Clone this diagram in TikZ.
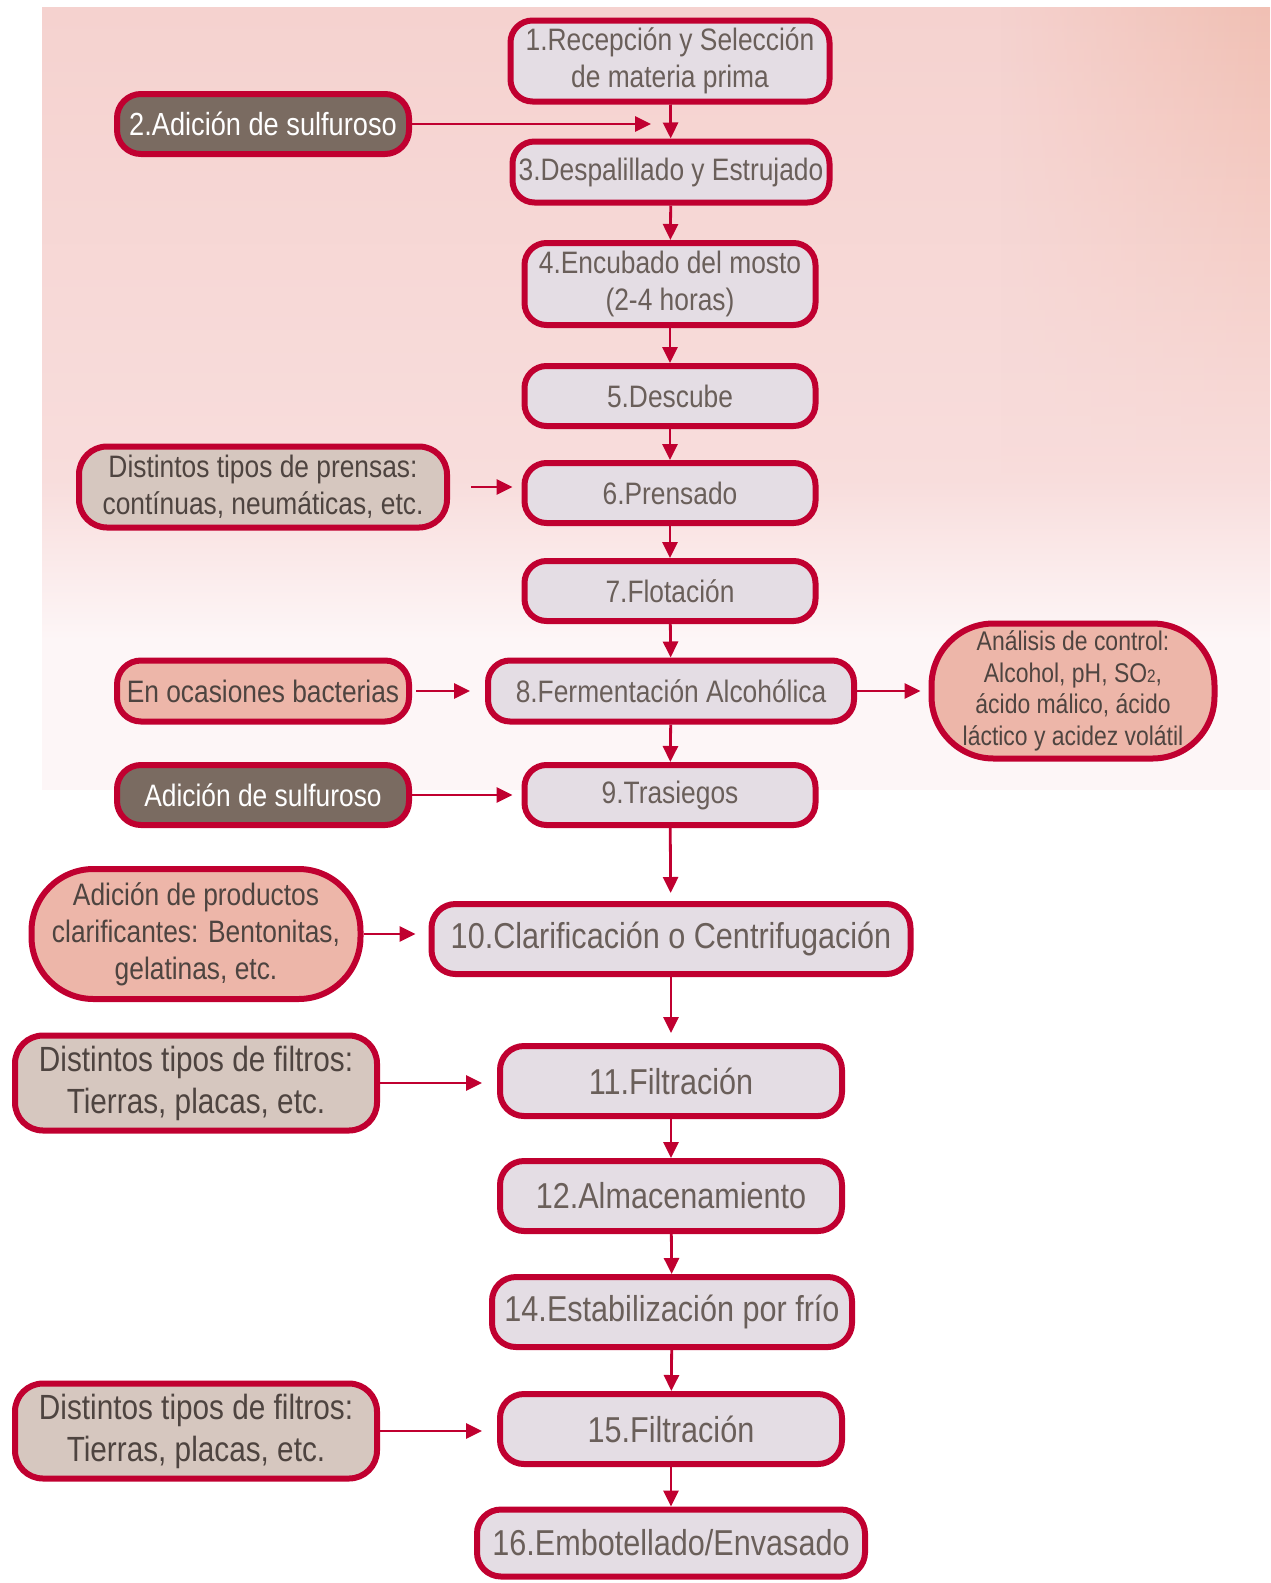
\documentclass[tikz,border=0pt]{standalone}
\usepackage{fontspec}
\setmainfont{Liberation Sans}[FakeStretch=0.85]
\usetikzlibrary{arrows.meta,fadings}
\definecolor{bred}{HTML}{C00030}
\definecolor{mfill}{HTML}{E4DDE4}
\definecolor{mtext}{HTML}{6A5F5A}
\definecolor{stext}{HTML}{4E4440}
\definecolor{dfill}{HTML}{7A6B61}
\definecolor{sfill}{HTML}{EDB6A9}
\definecolor{tfill}{HTML}{D6C7BF}
\definecolor{pinkA}{HTML}{F5D2CF}
\definecolor{pinkB}{HTML}{F8DDDC}
\definecolor{pinkC}{HTML}{FDF6F7}
\definecolor{peach}{HTML}{F1C0B4}
\tikzset{
  box/.style={draw=bred, line width=6pt, align=center, inner sep=0pt},
  mainbox/.style={box, fill=mfill, text=mtext, rounded corners=22pt, font=\fontsize{31}{37}\selectfont},
  bigbox/.style={box, fill=mfill, text=mtext, rounded corners=24pt, font=\fontsize{36}{42}\selectfont},
  darkbox/.style={box, fill=dfill, text=white, rounded corners=24pt, font=\fontsize{32}{38}\selectfont},
  salmonbox/.style={box, fill=sfill, text=stext, rounded corners=28pt, font=\fontsize{31}{37}\selectfont},
  tanbox/.style={box, fill=tfill, text=stext, rounded corners=28pt, font=\fontsize{31}{37}\selectfont},
  arr/.style={draw=bred, line width=2.8pt, -{Triangle[length=16pt,width=15pt]}},
}
\begin{document}
\begin{tikzpicture}[x=1pt,y=-1pt]
\useasboundingbox (0,0) rectangle (1270,1583);
% background
\shade[top color=pinkA, bottom color=pinkB] (42,7) rectangle (1270,480);
\shade[top color=pinkB, bottom color=pinkC] (42,480) rectangle (1270,640);
\fill[pinkC] (42,640) rectangle (1270,790);
\shade[top color=peach, bottom color=pinkB, path fading=west] (1000,7) rectangle (1270,480);
% main column
\node[mainbox, minimum width=319pt, minimum height=81pt] (n1) at (670,61) {1.Recepción y Selección\\de materia prima};
\node[mainbox, minimum width=317pt, minimum height=61pt] (n3) at (671,172) {3.Despalillado y Estrujado};
\node[mainbox, minimum width=291pt, minimum height=82pt] (n4) at (670,284) {4.Encubado del mosto\\(2-4 horas)};
\node[mainbox, minimum width=291pt, minimum height=60pt] (n5) at (670,396) {5.Descube};
\node[mainbox, minimum width=291pt, minimum height=60pt] (n6) at (670,493) {6.Prensado};
\node[mainbox, minimum width=291pt, minimum height=60pt] (n7) at (670,591) {7.Flotación};
\node[mainbox, minimum width=366pt, minimum height=61pt] (n8) at (671,691) {8.Fermentación Alcohólica};
\node[mainbox, minimum width=291pt, minimum height=60pt] (n9) at (670,795) {9.Trasiegos};
\node[bigbox, minimum width=479pt, minimum height=70pt] (n10) at (671,939) {10.Clarificación o Centrifugación};
\node[bigbox, minimum width=342pt, minimum height=70pt] (n11) at (671,1081) {11.Filtración};
\node[bigbox, minimum width=342pt, minimum height=70pt] (n12) at (671,1196) {12.Almacenamiento};
\node[bigbox, minimum width=360pt, minimum height=70pt] (n14) at (672,1312) {14.Estabilización por frío};
\node[bigbox, minimum width=342pt, minimum height=70pt] (n15) at (671,1429) {15.Filtración};
\node[bigbox, minimum width=388pt, minimum height=67pt] (n16) at (671,1543) {16.Embotellado/Envasado};
% side boxes
\node[darkbox, minimum width=292pt, minimum height=60pt] (s2) at (263,124) {2.Adición de sulfuroso};
\node[tanbox, minimum width=368pt, minimum height=81pt] (sP) at (263,487) {Distintos tipos de prensas:\\contínuas, neumáticas, etc.};
\node[salmonbox, minimum width=292pt, minimum height=61pt, rounded corners=24pt] (sB) at (263,691) {En ocasiones bacterias};
\node[salmonbox, minimum width=283pt, minimum height=135pt, rounded corners=62pt, font=\fontsize{27}{31.5}\selectfont] (sA) at (1073,691) {Análisis de control:\\Alcohol, pH, SO{\fontsize{18}{18}\selectfont 2},\\ácido málico, ácido\\láctico y acidez volátil};
\node[darkbox, minimum width=292pt, minimum height=60pt, font=\fontsize{31}{37}\selectfont] (sS) at (263,795) {Adición de sulfuroso};
\node[salmonbox, minimum width=329pt, minimum height=130pt, rounded corners=62pt] (sC) at (196,934) {Adición de productos\\clarificantes: Bentonitas,\\gelatinas, etc.};
\node[tanbox, minimum width=362pt, minimum height=95pt, font=\fontsize{35}{42}\selectfont] (sF1) at (196,1083) {Distintos tipos de filtros:\\Tierras, placas, etc.};
\node[tanbox, minimum width=362pt, minimum height=95pt, font=\fontsize{35}{42}\selectfont] (sF2) at (196,1431) {Distintos tipos de filtros:\\Tierras, placas, etc.};
% coordinates
\coordinate (c2) at (651,124);
% vertical arrows
\draw[arr] (n1) -- (n3);
\draw[arr] (n3) -- (n4);
\draw[arr] (n4) -- (n5);
\draw[arr] (n5) -- (n6);
\draw[arr] (n6) -- (n7);
\draw[arr] (n7) -- (n8);
\draw[arr] (n8) -- (n9);
\draw[arr, shorten >=8pt] (n9) -- (n10);
\draw[arr, shorten >=10pt] (n10) -- (n11);
\draw[arr] (n11) -- (n12);
\draw[arr] (n12) -- (n14);
\draw[arr] (n14) -- (n15);
\draw[arr] (n15) -- (n16);
% side arrows
\draw[arr] (s2.east) -- (c2);
\draw[arr, shorten <=21pt, shorten >=9pt] (sP.east) -- (sP.east -| n6.west);
\draw[arr, shorten <=4pt, shorten >=15pt] (sB.east) -- (n8.west);
\draw[arr, shorten >=8pt] (n8.east) -- (sA.west);
\draw[arr, shorten >=9pt] (sS.east) -- (n9.west);
\draw[arr, shorten >=13pt] (sC.east) -- (sC.east -| n10.west);
\draw[arr, shorten >=15pt] (sF1.east) -- (sF1.east -| n11.west);
\draw[arr, shorten >=15pt] (sF2.east) -- (sF2.east -| n15.west);
\end{tikzpicture}
\end{document}
